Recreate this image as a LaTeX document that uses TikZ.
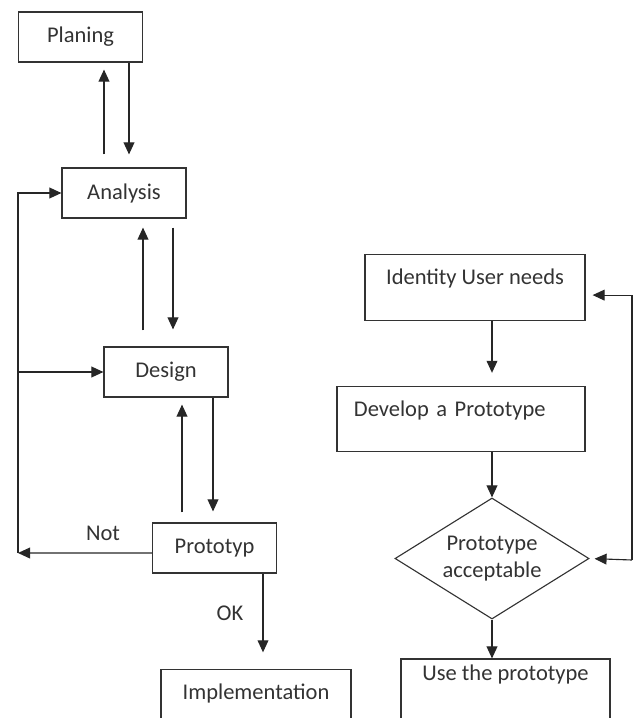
\documentclass[tikz,border=0pt]{standalone}
\usepackage{fontspec}
\setmainfont{Carlito}
\usetikzlibrary{arrows.meta,shapes.geometric}
\begin{document}
\begin{tikzpicture}[x=0.025cm, y=-0.025cm, stage node/.style={draw=black!80, line width=0.8pt, font=\fontsize{16}{19}\selectfont, text=black!80, minimum width=3.1cm, minimum height=1.25cm, inner sep=0pt},tall node/.style={stage node, minimum height=1.625cm, text height=0.74cm, text depth=0.89cm},test node/.style={diamond, draw=black!80, line width=0.8pt, font=\fontsize{16}{19}\selectfont, text=black!80, align=center, aspect=1.6, minimum width=4.85cm, minimum height=3.025cm, inner sep=0pt},flow/.style={draw=black!85, line width=0.8pt, -{Triangle[length=0.3cm,width=0.27cm]}},tag node/.style={font=\fontsize{16}{19}\selectfont, text=black!80, inner sep=0pt}]%
\path[use as bounding box] (0,0) rectangle (634,718);%
  % Waterfall side%
\node[stage node] (plan) at (80.5,37) {Planing};%
\node[stage node] (ana) at (124,193) {Analysis};%
\node[stage node] (des) at (166,372) {Design};%
\node[stage node] (proto) at (214.5,548) {Prototyp};%
\node[tall node, minimum width=4.75cm] (impl) at (256,702.5) {Implementation};%
\coordinate (back) at (18,553);%
\draw[flow, shorten <=0.325cm, shorten >=0.175cm] (104,0 |- ana.north) -- (104,0 |- plan.south);%
\draw[flow, shorten >=0.325cm] (129,0 |- plan.south) -- (129,0 |- ana.north);%
\draw[flow, shorten <=0.4cm, shorten >=0.225cm] (143,0 |- des.north) -- (143,0 |- ana.south);%
\draw[flow, shorten <=0.225cm, shorten >=0.425cm] (173,0 |- ana.south) -- (173,0 |- des.north);%
\draw[flow, shorten <=0.25cm, shorten >=0.175cm] (182,0 |- proto.north) -- (182,0 |- des.south);%
\draw[flow, shorten >=0.275cm] (213,0 |- des.south) -- (213,0 |- proto.north);%
\draw[flow] ([yshift=-0.125cm]proto.west) -- (back);%
\draw[flow] (back) |- (ana.west);%
\draw[flow] (back |- des.west) -- (des.west);%
\draw[flow, shorten >=0.425cm] (263,0 |- proto.south) -- (263,0 |- impl.north);%
\node[tag node] (not) at (103,533) {Not};%
\node[tag node] (ok) at (230,613) {OK};%
  % Prototype side%
\node[tall node, minimum width=5.5cm] (ident) at (475,287.5) {Identity User needs};%
\node[tall node, minimum width=6.2cm, text width=5.35cm, align=left, inner xsep=0.425cm] (dev) at (461,419) {Develop a Prototype};%
\node[test node] (acc) at (492,558.5) {Prototype\\acceptable};%
\node[tall node, minimum width=5.225cm, text height=0.525cm, text depth=1.1cm] (use) at (505.5,691.5) {Use the prototype};%
\coordinate (ret) at (632,560);%
\draw[flow, shorten >=0.325cm] (492,0 |- ident.south) -- (492,0 |- dev.north);%
\draw[flow] (dev.south -| acc.north) -- (acc.north);%
\draw[flow] (acc.south) -- (acc.south |- use.north);%
\draw[flow, shorten >=0.125cm] (ret) -- (acc.east);%
\draw[flow, shorten >=0.175cm] (ret) |- ([yshift=-0.19cm]ident.east);%
\end{tikzpicture}
\end{document}
